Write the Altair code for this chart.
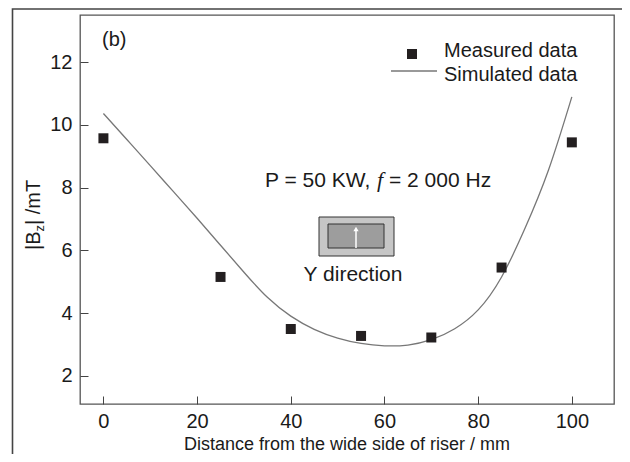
import altair as alt
import pandas as pd

# Measured data (squares)
meas_x = [0, 25, 40, 55, 70, 85, 100]
meas_y = [9.57, 5.15, 3.49, 3.27, 3.22, 5.45, 9.44]

# Simulated data (line)
sim_x = [0, 5, 10, 15, 20, 25, 30, 35, 40, 45, 50, 55, 60, 65, 70, 75, 80, 85, 90, 95, 100]
sim_y = [10.36, 9.53, 8.70, 7.86, 7.02, 6.16, 5.30, 4.50, 3.90, 3.48, 3.20, 3.03, 2.955, 2.98, 3.15, 3.50, 4.10, 5.15, 6.70, 8.55, 10.89]

x_ticks = [0, 20, 40, 60, 80, 100]
y_ticks = [2, 4, 6, 8, 10, 12]

FONT = "Liberation Sans"
TXT = "#1a1a1a"

meas = pd.DataFrame({"x": meas_x, "y": meas_y})
sim = pd.DataFrame({"x": sim_x, "y": sim_y})
one = pd.DataFrame({"a": [0]})

xs = alt.Scale(domain=[-5, 109], nice=False, zero=False)
ys = alt.Scale(domain=[1.1, 13.5], nice=False, zero=False)

xax = alt.Axis(values=x_ticks, title=None, grid=False, tickSize=8, offset=-8, labelPadding=7,
               domain=False, tickColor="#444", tickWidth=1, labelFontSize=20, labelFont=FONT,
               labelColor=TXT)
yax = alt.Axis(values=y_ticks, title=None, grid=False, tickSize=8, offset=-8, labelPadding=8,
               domain=False, tickColor="#444", tickWidth=1, labelFontSize=20, labelFont=FONT,
               labelColor=TXT)

line = alt.Chart(sim).mark_line(color="#777", strokeWidth=1.3, interpolate="natural").encode(
    x=alt.X("x:Q", scale=xs, axis=xax), y=alt.Y("y:Q", scale=ys, axis=yax))
pts = alt.Chart(meas).mark_square(color="#231f20", size=100, opacity=1).encode(
    x=alt.X("x:Q", scale=xs), y=alt.Y("y:Q", scale=ys))

# outer frame of the (cropped) figure
frame = alt.Chart(one).mark_rect(filled=False, stroke="#444", strokeWidth=1.6).encode(
    x=alt.value(-67.5), y=alt.value(-6), x2=alt.value(900), y2=alt.value(900))

def txt(s, x, y, size=20, align="left", baseline="alphabetic", font=FONT, style="normal", angle=0):
    m = alt.Chart(one).mark_text(text=s, fontSize=size, font=font, fontStyle=style, align=align,
                                 baseline=baseline, color=TXT, angle=angle)
    return m.encode(x=alt.value(x), y=alt.value(y))

# legend
leg_sq = alt.Chart(one).mark_square(color="#231f20", size=100, opacity=1).encode(
    x=alt.value(332), y=alt.value(39))
leg_ln = alt.Chart(one).mark_rule(color="#777", strokeWidth=1.3).encode(
    x=alt.value(311), x2=alt.value(357), y=alt.value(56))
leg_t1 = txt("Measured data", 364, 42)
leg_t2 = txt("Simulated data", 364, 66)

lab_b = txt("(b)", 22, 31)

# annotation
p1 = txt("P = 50 KW,", 185, 172, size=21)
p2 = txt("f", 300, 172, size=22, align="center", font="Liberation Serif", style="italic")
p3 = txt("= 2 000 Hz", 309, 172, size=21)

outer = alt.Chart(one).mark_rect(fill="#c6c6c6", stroke="#333", strokeWidth=1).encode(
    x=alt.value(239), y=alt.value(202), x2=alt.value(314), y2=alt.value(241))
inner = alt.Chart(one).mark_rect(fill="#9d9d9d", stroke="#333", strokeWidth=1).encode(
    x=alt.value(248), y=alt.value(209), x2=alt.value(304), y2=alt.value(233))
shaft = alt.Chart(one).mark_rule(color="white", strokeWidth=1.5).encode(
    x=alt.value(276), y=alt.value(233), y2=alt.value(216))
head = alt.Chart(one).mark_point(shape="triangle-up", filled=True, color="white", size=28, opacity=1).encode(
    x=alt.value(276), y=alt.value(214))
ydir = txt("Y direction", 273, 266, size=21, align="center")

# axis titles
xtitle = txt("Distance from the wide side of riser / mm", 267, 435, size=18, align="center")
yt1 = txt("|B", -40, 235, angle=270)
yt2 = txt("z", -36, 216.5, size=13, angle=270)
yt3 = txt("| /mT", -40, 210, angle=270)

chart = alt.layer(frame, line, pts, leg_sq, leg_ln, leg_t1, leg_t2, lab_b, p1, p2, p3,
                  outer, inner, shaft, head, ydir, xtitle, yt1, yt2, yt3).properties(
    width=534, height=389,
    autosize=alt.AutoSizeParams(type="none"),
    padding={"left": 72, "top": 7, "right": 8, "bottom": 50}
).configure_view(stroke="#555", strokeWidth=1.3)

chart.save("out.html", embed_options={"renderer": "svg", "actions": False})
